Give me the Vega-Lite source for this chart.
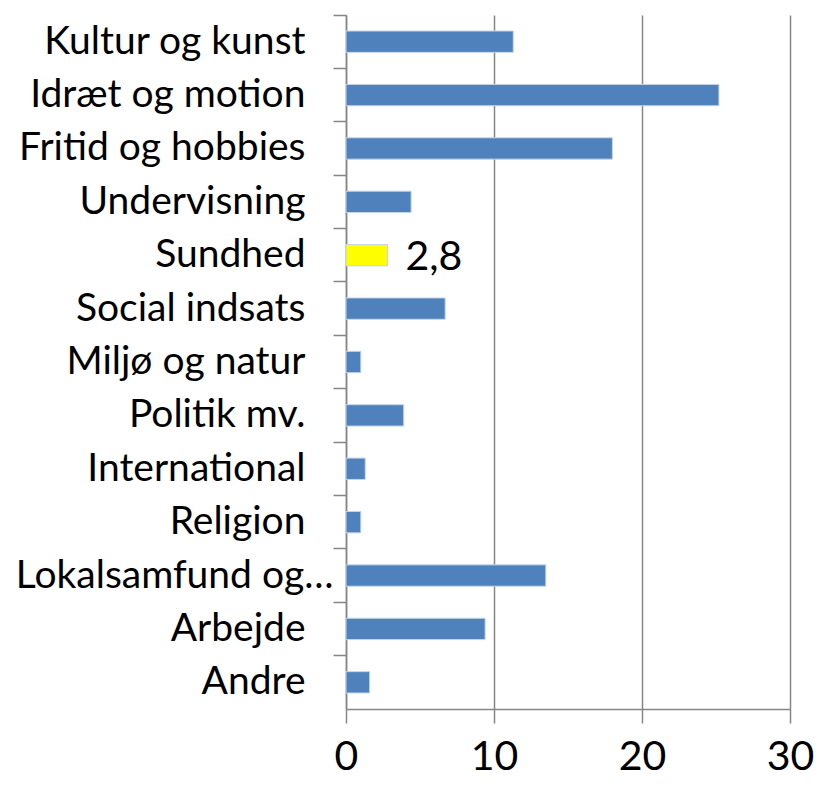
{
  "$schema": "https://vega.github.io/schema/vega-lite/v6.json",
  "autosize": "none",
  "width": 444,
  "height": 694,
  "padding": {"left": 346, "top": 15, "right": 29, "bottom": 80},
  "background": "white",
  "config": {"view": {"stroke": null}, "font": "Lato"},
  "data": {"values": [
    {"kategori": "Kultur og kunst", "andel": 11.3, "fremhaev": "nej"},
    {"kategori": "Idræt og motion", "andel": 25.2, "fremhaev": "nej"},
    {"kategori": "Fritid og hobbies", "andel": 18.0, "fremhaev": "nej"},
    {"kategori": "Undervisning", "andel": 4.4, "fremhaev": "nej"},
    {"kategori": "Sundhed", "andel": 2.8, "fremhaev": "ja", "etiket": "2,8"},
    {"kategori": "Social indsats", "andel": 6.7, "fremhaev": "nej"},
    {"kategori": "Miljø og natur", "andel": 1.0, "fremhaev": "nej"},
    {"kategori": "Politik mv.", "andel": 3.9, "fremhaev": "nej"},
    {"kategori": "International", "andel": 1.3, "fremhaev": "nej"},
    {"kategori": "Religion", "andel": 1.0, "fremhaev": "nej"},
    {"kategori": "Lokalsamfund og…", "andel": 13.5, "fremhaev": "nej"},
    {"kategori": "Arbejde", "andel": 9.4, "fremhaev": "nej"},
    {"kategori": "Andre", "andel": 1.6, "fremhaev": "nej"}
  ]},
  "encoding": {
    "y": {
      "field": "kategori", "type": "nominal", "sort": null,
      "scale": {"paddingInner": 0, "paddingOuter": 0},
      "axis": {
        "title": null, "bandPosition": 0, "domainColor": "#868686", "domainWidth": 1.5,
        "tickColor": "#868686", "tickWidth": 1.5, "tickSize": 13,
        "labelFont": "Lato", "labelFontSize": 39, "labelColor": "black",
        "labelPadding": {"condition": {"test": "datum.value === 'Lokalsamfund og…'", "value": 0}, "value": 28},
        "labelLimit": 400, "grid": false
      }
    },
    "x": {
      "field": "andel", "type": "quantitative",
      "scale": {"domain": [0, 30], "nice": false},
      "axis": {
        "title": null, "values": [0, 10, 20, 30], "grid": true,
        "gridColor": "#868686", "gridWidth": 1.5,
        "domainColor": "#868686", "domainWidth": 1.5,
        "tickColor": "#868686", "tickWidth": 1.5, "tickSize": 14,
        "labelFont": "Lato", "labelFontSize": 41, "labelColor": "black",
        "labelPadding": 14, "labelFlush": false
      }
    }
  },
  "layer": [
    {
      "mark": {"type": "bar", "height": {"band": 0.4}, "stroke": "#C5D5EA", "strokeWidth": 1},
      "encoding": {
        "color": {
          "field": "fremhaev", "type": "nominal",
          "scale": {"domain": ["nej", "ja"], "range": ["#4F81BD", "#FFFF00"]},
          "legend": null
        }
      }
    },
    {
      "transform": [{"filter": "datum.fremhaev === 'ja'"}],
      "mark": {"type": "text", "align": "left", "baseline": "middle", "dx": 18, "dy": 3, "fontSize": 41, "font": "Lato", "color": "black"},
      "encoding": {"text": {"field": "etiket"}}
    }
  ]
}
